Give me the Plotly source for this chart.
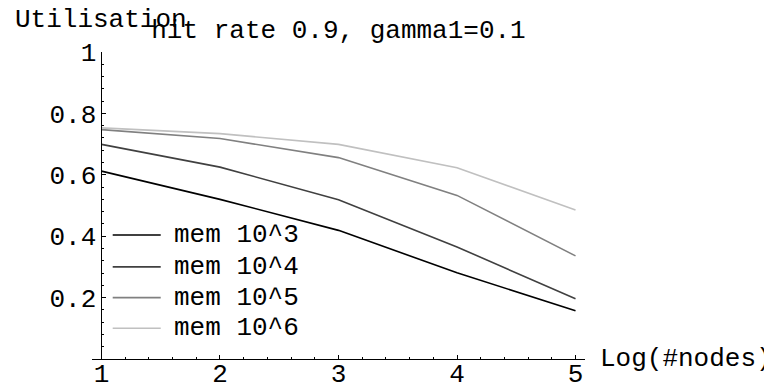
import plotly.graph_objects as go

# ---- data ----
log_nodes = [1, 2, 3, 4, 5]
series_names = ["mem 10^3", "mem 10^4", "mem 10^5", "mem 10^6"]
util_mem3 = [0.612, 0.520, 0.419, 0.281, 0.157]
util_mem4 = [0.699, 0.625, 0.519, 0.365, 0.196]
util_mem5 = [0.747, 0.718, 0.656, 0.533, 0.336]
util_mem6 = [0.753, 0.734, 0.699, 0.623, 0.485]
x_ticks = [1, 2, 3, 4, 5]
y_ticks = [0.2, 0.4, 0.6, 0.8, 1.0]
y_tick_text = ["0.2", "0.4", "0.6", "0.8", "1"]

series_values = [util_mem3, util_mem4, util_mem5, util_mem6]
colors = ["#000000", "#404040", "#808080", "#c0c0c0"]

FONT = "Liberation Mono, Courier New, monospace"
FS = 26
OFF = 8  # page body margin offset in the browser

fig = go.Figure()
for name, vals, col in zip(series_names, series_values, colors):
    fig.add_trace(go.Scatter(x=log_nodes, y=vals, mode="lines", name=name,
                             line=dict(color=col, width=1.6), showlegend=False))

# custom legend (inside plot, lower-left)
legend_y = [0.404, 0.300, 0.200, 0.100]
for name, col, ly in zip(series_names, colors, legend_y):
    fig.add_shape(type="line", xref="paper", yref="y", x0=0.042, x1=0.1394, y0=ly, y1=ly,
                  line=dict(color=col, width=1.6))
    fig.add_annotation(text=name, xref="paper", yref="y", x=0.1617, y=ly,
                       xanchor="left", yanchor="middle", showarrow=False,
                       font=dict(family=FONT, size=FS, color="black"))

x0, x1 = 0.92, 5.08
fig.update_layout(
    template="none",
    width=772, height=389,
    margin=dict(l=92 - OFF, r=187 + OFF, t=52 - OFF, b=30 + OFF, autoexpand=False),
    paper_bgcolor="white", plot_bgcolor="white",
    showlegend=False,
    font=dict(family=FONT, size=FS, color="black"),
    title=dict(text="hit rate 0.9, gamma1=0.1", x=0.5, xref="paper",
               y=1 - (28.7 - OFF) / 389, yref="container", xanchor="center", yanchor="middle",
               font=dict(family=FONT, size=FS, color="black")),
    xaxis=dict(range=[x0, x1], showgrid=False, zeroline=False, showline=True,
               automargin=False, ticklabelstandoff=-9,
               linecolor="black", linewidth=1, ticks="inside", ticklen=4,
               tickcolor="black", tickvals=x_ticks, ticktext=[str(v) for v in x_ticks],
               minor=dict(ticks="inside", ticklen=2, dtick=0.2, tick0=1,
                          tickcolor="black", showgrid=False),
               tickfont=dict(family=FONT, size=FS, color="black")),
    yaxis=dict(range=[0, 1], showgrid=False, zeroline=False, showline=True,
               automargin=False,
               linecolor="black", linewidth=1, ticks="inside", ticklen=4,
               tickcolor="black", tickvals=y_ticks, ticktext=y_tick_text,
               anchor="free", position=(1 - x0) / (x1 - x0),
               minor=dict(ticks="inside", ticklen=2, dtick=0.04, tick0=0,
                          tickcolor="black", showgrid=False),
               tickfont=dict(family=FONT, size=FS, color="black")),
)

# axis labels
fig.add_annotation(text="Utilisation", xref="x", yref="paper", x=1, y=1,
                   yshift=32, xanchor="center", yanchor="middle", showarrow=False,
                   font=dict(family=FONT, size=FS, color="black"))
fig.add_annotation(text="Log(#nodes)", xref="paper", yref="y", x=1, y=0,
                   xshift=13, xanchor="left", yanchor="middle", showarrow=False,
                   font=dict(family=FONT, size=FS, color="black"))

fig.write_html("out.html")
